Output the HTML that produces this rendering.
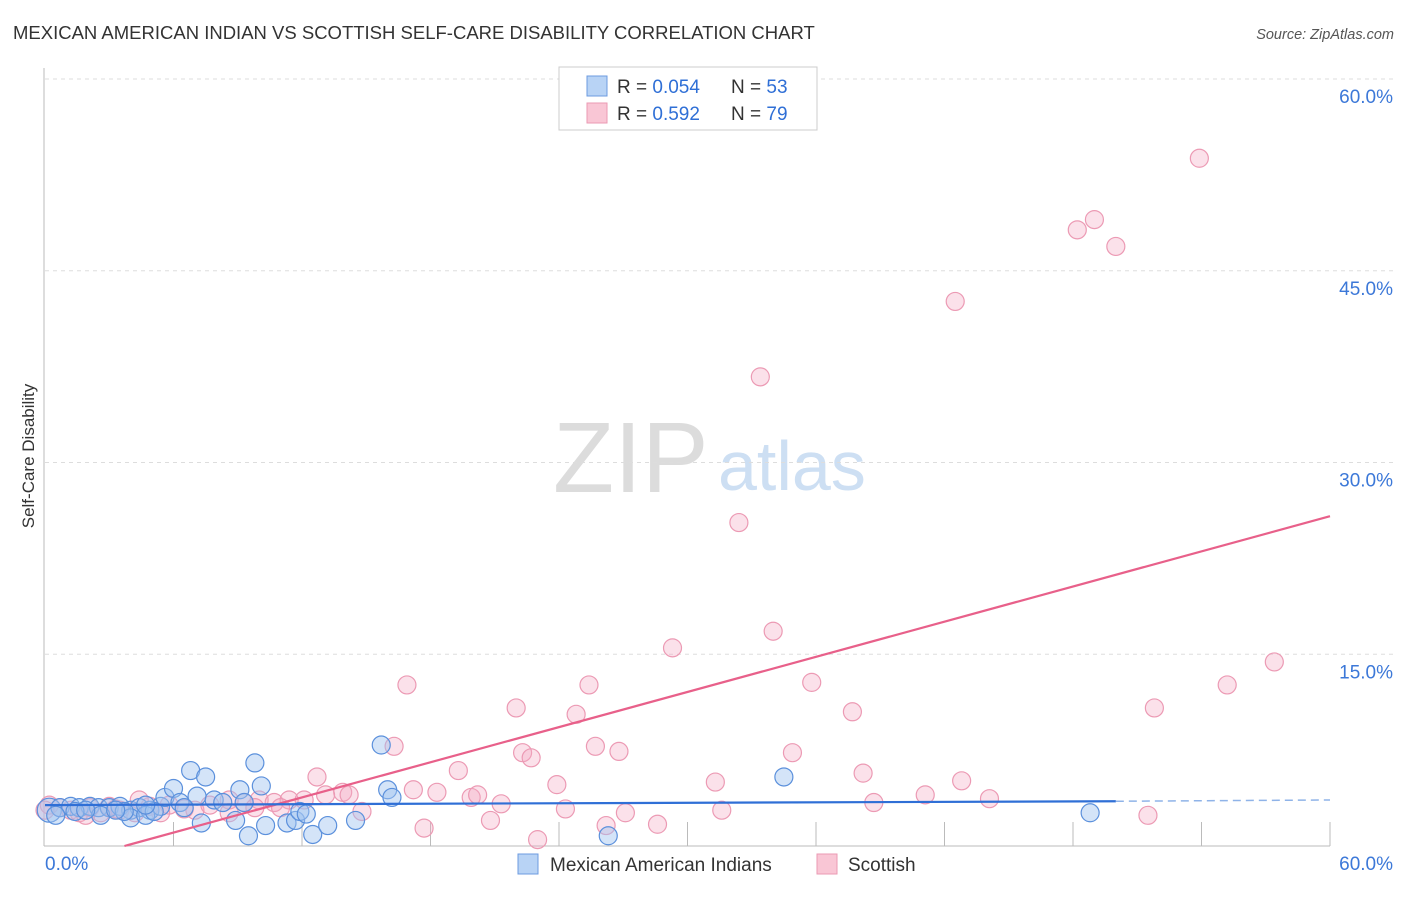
<!DOCTYPE html>
<html><head><meta charset="utf-8"><style>
body{margin:0;background:#fff;font-family:"Liberation Sans",sans-serif;}
svg text{font-family:"Liberation Sans",sans-serif;}
</style></head><body>
<svg id="c" width="1406" height="892" xmlns="http://www.w3.org/2000/svg">
<text x="13" y="39" font-size="18.5" fill="#333">MEXICAN AMERICAN INDIAN VS SCOTTISH SELF-CARE DISABILITY CORRELATION CHART</text>
<text x="1394" y="39" font-size="14.5" fill="#555" font-style="italic" text-anchor="end">Source: ZipAtlas.com</text>
<text x="553" y="492" font-size="100" fill="#dcdcdc" font-family="Liberation Serif,serif">ZIP</text>
<text x="718" y="490" font-size="70" fill="#cddff3">atlas</text>
<text transform="translate(34,456) rotate(-90)" font-size="17" fill="#333" text-anchor="middle">Self-Care Disability</text>
<g id="grid"></g><g id="ticks"></g><g id="pts"></g><g id="lines"></g>
<rect x="559" y="67" width="258" height="63" fill="#fff" stroke="#ccc"/>
<rect x="587" y="76" width="20" height="20" fill="#b8d3f5" stroke="#6c9be0"/>
<rect x="587" y="103" width="20" height="20" fill="#f9c6d5" stroke="#eb9ab3"/>
<text x="617" y="93" font-size="19" fill="#333">R = <tspan fill="#2f6fd6">0.054</tspan></text>
<text x="731" y="93" font-size="19" fill="#333">N = <tspan fill="#2f6fd6">53</tspan></text>
<text x="617" y="120" font-size="19" fill="#333">R =  <tspan fill="#2f6fd6">0.592</tspan></text>
<text x="731" y="120" font-size="19" fill="#333">N = <tspan fill="#2f6fd6">79</tspan></text>
<rect x="518" y="854" width="20" height="20" fill="#b8d3f5" stroke="#6c9be0"/>
<text x="550" y="871" font-size="19" fill="#333">Mexican American Indians</text>
<rect x="817" y="854" width="20" height="20" fill="#f9c6d5" stroke="#eb9ab3"/>
<text x="848" y="871" font-size="19" fill="#333">Scottish</text>
</svg>
<script>
const yTicks=[15,30,45,60];
const yTickLabels=["15.0%","30.0%","45.0%","60.0%"];
const xTickLabels=["0.0%","60.0%"];
const blueX=[0.2,0.7,1.2,1.6,2.1,2.5,3.0,3.5,4.0,4.4,4.9,5.4,5.6,6.0,6.3,6.8,7.1,7.3,7.5,7.9,8.3,8.9,9.1,9.3,9.8,10.1,10.3,9.5,11.3,11.7,11.9,12.2,12.5,13.2,14.5,15.7,16.0,16.2,26.3,34.5,48.8,4.0,4.7,3.7,6.5,2.6,1.4,0.5,1.9,3.3,5.1,4.7];
const blueY=[2.8,3.0,3.1,3.0,3.1,3.0,3.0,3.1,2.8,3.0,2.8,3.1,3.8,4.5,3.4,5.9,3.9,1.8,5.4,3.6,3.4,2.0,4.4,3.4,6.5,4.7,1.6,0.8,1.8,2.0,2.7,2.5,0.9,1.6,2.0,7.9,4.4,3.8,0.8,5.4,2.6,2.2,2.4,2.7,3.0,2.4,2.7,2.4,2.8,2.8,2.7,3.2];
const pinkX=[53.9,49.0,48.2,50.0,42.5,33.4,32.4,29.3,34.0,35.8,37.7,51.8,55.2,57.4,16.9,22.0,25.4,24.8,22.3,22.7,25.7,26.8,16.3,34.9,19.3,12.7,23.9,31.3,38.2,42.8,17.2,18.3,13.9,13.1,19.9,20.2,21.3,44.1,41.1,38.7,31.6,24.3,27.1,20.8,17.7,26.2,28.6,23.0,51.5,14.8,0.2,0.7,1.2,1.6,2.1,2.6,3.0,3.5,4.2,4.9,5.8,7.0,7.7,8.6,9.3,10.0,10.7,11.4,12.1,14.2,8.6,11.0,4.4,5.4,0.0,1.9,3.3,6.5,9.8];
const pinkY=[53.8,49.0,48.2,46.9,42.6,36.7,25.3,15.5,16.8,12.8,10.5,10.8,12.6,14.4,12.6,10.8,12.6,10.3,7.3,6.9,7.8,7.4,7.8,7.3,5.9,5.4,4.8,5.0,5.7,5.1,4.4,4.2,4.2,4.0,3.8,4.0,3.3,3.7,4.0,3.4,2.8,2.9,2.6,2.0,1.4,1.6,1.7,0.5,2.4,2.7,3.2,3.0,2.8,2.6,3.0,2.6,3.1,2.8,2.6,3.1,3.2,2.8,3.2,3.6,3.4,3.6,3.4,3.6,3.6,4.0,2.6,3.0,3.6,2.6,2.8,2.4,2.9,2.9,3.0];
const blueLine=[[0,3.2],[50,3.5],[60,3.6]];
const pinkLine=[[0,-1.7],[60,25.8]];
const X=v=>45+v*(1330-45)/60, Y=v=>846-v*(846-79)/60;
const NS="http://www.w3.org/2000/svg";
function mk(tag,attrs,parent){const e=document.createElementNS(NS,tag);for(const k in attrs)e.setAttribute(k,attrs[k]);document.getElementById(parent).appendChild(e);return e;}
yTicks.forEach((t,i)=>{
 const g=mk('line',{x1:45,x2:1393,y1:Y(t),y2:Y(t),stroke:'#ddd','stroke-dasharray':'4,4'},'grid');
 
 
 const l=mk('text',{x:1393,y:Y(t)+24,'font-size':19,fill:'#3c78d8','text-anchor':'end'},'ticks');l.textContent=yTickLabels[i];
 
 
});
mk('line',{x1:44,x2:44,y1:68,y2:846,stroke:'#bbb'},'grid');
mk('line',{x1:44,x2:1330,y1:846,y2:846,stroke:'#bbb'},'grid');
for(let i=1;i<=10;i++){mk('line',{x1:X(i*6),x2:X(i*6),y1:822,y2:846,stroke:'#bbb'},'grid');}
const xl0=mk('text',{x:45,y:870,'font-size':19,fill:'#3c78d8'},'ticks');xl0.textContent=xTickLabels[0];


const xl1=mk('text',{x:1393,y:870,'font-size':19,fill:'#3c78d8','text-anchor':'end'},'ticks');xl1.textContent=xTickLabels[1];


pinkX.forEach((v,i)=>{const c=mk('circle',{cx:X(v),cy:Y(pinkY[i]),r:9,fill:'rgba(244,170,195,0.35)',stroke:'#ec9ab4','stroke-width':1.2},'pts');
 
 });
blueX.forEach((v,i)=>{const c=mk('circle',{cx:X(v),cy:Y(blueY[i]),r:i==0?12:9,fill:'rgba(160,195,240,0.45)',stroke:'#5b90dc','stroke-width':1.2},'pts');
 
 });
const slope=(pinkLine[1][1]-pinkLine[0][1])/(pinkLine[1][0]-pinkLine[0][0]);
const x0=-pinkLine[0][1]/slope;
const pl=mk('line',{x1:X(x0),y1:Y(0),x2:X(pinkLine[1][0]),y2:Y(pinkLine[1][1]),stroke:'#e8608a','stroke-width':2.2},'lines');


const bl=mk('line',{x1:X(blueLine[0][0]),y1:Y(blueLine[0][1]),x2:X(blueLine[1][0]),y2:Y(blueLine[1][1]),stroke:'#2f6fd6','stroke-width':2.2},'lines');


const bd=mk('line',{x1:X(blueLine[1][0]),y1:Y(blueLine[1][1]),x2:X(blueLine[2][0]),y2:Y(blueLine[2][1]),stroke:'#8fb3e8','stroke-width':1.5,'stroke-dasharray':'8,5'},'lines');


</script>
</body></html>
